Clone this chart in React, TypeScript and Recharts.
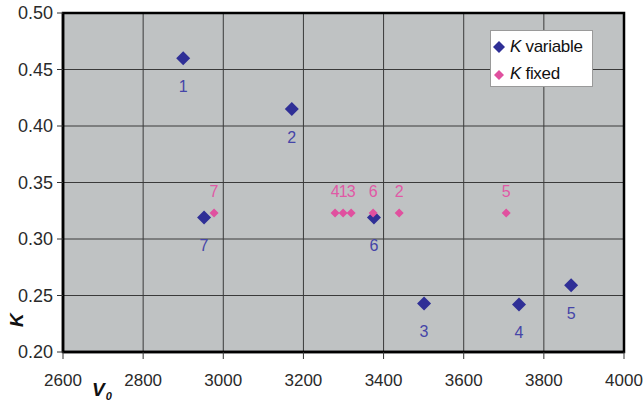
import React from 'react';
import { ScatterChart, Scatter, XAxis, YAxis, CartesianGrid, ReferenceArea, Legend } from 'recharts';

const variableV = [2900, 3171, 3501, 3738, 3868, 3376, 2952];
const variableK = [0.46, 0.415, 0.243, 0.242, 0.259, 0.319, 0.319];
const variableLabels = ['1', '2', '3', '4', '5', '6', '7'];

const fixedV = [2977, 3279, 3299, 3319, 3374, 3439, 3706];
const fixedK = [0.323, 0.323, 0.323, 0.323, 0.323, 0.323, 0.323];
const fixedLabels = ['7', '4', '1', '3', '6', '2', '5'];

const xTicks = [2600, 2800, 3000, 3200, 3400, 3600, 3800, 4000];
const yTicks = [0.2, 0.25, 0.3, 0.35, 0.4, 0.45, 0.5];

const variableData = variableV.map((v, i) => ({ v, k: variableK[i], label: variableLabels[i] }));
const fixedData = fixedV.map((v, i) => ({ v, k: fixedK[i], label: fixedLabels[i] }));

const BLUE = '#2f2f96';
const PINK = '#e0509f';
const FONT = '"Liberation Sans", Arial, sans-serif';

const makeShape = (half: number, color: string, labelColor: string, dy: number) => (props: any) => {
  const { cx, cy, payload } = props;
  if (cx == null || cy == null) return null;
  return (
    <g>
      <polygon
        points={`${cx},${cy - half} ${cx + half},${cy} ${cx},${cy + half} ${cx - half},${cy}`}
        fill={color}
      />
      <text
        x={cx}
        y={cy + dy}
        textAnchor="middle"
        dominantBaseline="central"
        fontFamily={FONT}
        fontSize={16}
        fill={labelColor}
      >
        {payload.label}
      </text>
    </g>
  );
};

const LegendBox = () => (
  <div
    style={{
      width: 103,
      height: 57,
      background: '#ffffff',
      border: '1px solid #9a9a9a',
      fontFamily: FONT,
      fontSize: 17,
      color: '#111',
      boxSizing: 'border-box',
      position: 'relative',
    }}
  >
    <svg width={12} height={12} style={{ position: 'absolute', left: 2, top: 10 }}>
      <polygon points="6,0 12,6 6,12 0,6" fill={BLUE} />
    </svg>
    <div style={{ position: 'absolute', left: 19, top: 6, whiteSpace: 'nowrap', letterSpacing: -0.3 }}>
      <i>K</i> variable
    </div>
    <svg width={10} height={10} style={{ position: 'absolute', left: 3, top: 39 }}>
      <polygon points="5,0 10,5 5,10 0,5" fill={PINK} />
    </svg>
    <div style={{ position: 'absolute', left: 19, top: 33, whiteSpace: 'nowrap', letterSpacing: -0.3 }}>
      <i>K</i> fixed
    </div>
  </div>
);

export default function App() {
  return (
    <div style={{ position: 'absolute', left: 0, top: 0, width: 643, height: 405, background: '#fff' }}>
      <ScatterChart width={643} height={405} margin={{ top: 13, right: 19, bottom: 0, left: 0 }}>
        <CartesianGrid stroke="#3a3a3a" strokeWidth={1} fill="#bfc2c3" fillOpacity={1} />
        <XAxis
          type="number"
          dataKey="v"
          domain={[2600, 4000]}
          ticks={xTicks}
          interval={0}
          height={53}
          tickSize={7}
          tickMargin={15}
          axisLine={{ stroke: '#000', strokeWidth: 2.5 }}
          tickLine={{ stroke: '#333' }}
          tick={{ fontFamily: FONT, fontSize: 17, fill: '#2a2a2a' }}
          label={{
            content: () => (
              <text x={92} y={396} fontFamily={FONT} fontWeight="bold" fontStyle="italic" fontSize={19} fill="#111">
                V
                <tspan fontSize={11} dx={1} dy={4}>0</tspan>
              </text>
            ),
          }}
        />
        <YAxis
          type="number"
          dataKey="k"
          domain={[0.2, 0.5]}
          ticks={yTicks}
          interval={0}
          width={63}
          tickSize={6}
          tickMargin={4}
          axisLine={{ stroke: '#000', strokeWidth: 2.5 }}
          tickLine={{ stroke: '#333' }}
          tick={{ fontFamily: FONT, fontSize: 18, fill: '#2a2a2a' }}
          tickFormatter={(t: number) => t.toFixed(2)}
          label={{
            content: () => (
              <text
                x={16}
                y={320}
                transform="rotate(-90 16 320)"
                textAnchor="middle"
                dominantBaseline="central"
                fontFamily={FONT}
                fontWeight="bold"
                fontStyle="italic"
                fontSize={19}
                fill="#111"
              >
                K
              </text>
            ),
          }}
        />
        <ReferenceArea
          x1={2600}
          x2={4000}
          y1={0.2}
          y2={0.5}
          fill="none"
          fillOpacity={0}
          stroke="#000"
          strokeWidth={2.5}
          ifOverflow="visible"
        />
        <Legend
          layout="vertical"
          align="center"
          verticalAlign="middle"
          content={() => <LegendBox />}
          wrapperStyle={{ position: 'absolute', left: 490, top: 30, width: 103, height: 57 }}
        />
        <Scatter
          name="K variable"
          data={variableData}
          fill={BLUE}
          isAnimationActive={false}
          shape={makeShape(7, BLUE, '#4545a8', 28)}
        />
        <Scatter
          name="K fixed"
          data={fixedData}
          fill={PINK}
          isAnimationActive={false}
          shape={makeShape(4.5, PINK, '#e059a6', -22)}
        />
      </ScatterChart>
    </div>
  );
}
